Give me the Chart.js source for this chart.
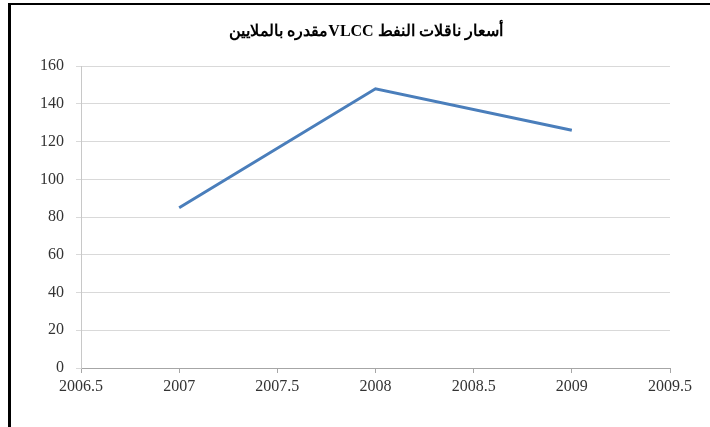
<!DOCTYPE html>
<html>
<head>
<meta charset="utf-8">
<script src="https://cdn.jsdelivr.net/npm/chart.js@4/dist/chart.umd.min.js"></script>
<style>
html,body{margin:0;padding:0;background:#fff;}
#frame{position:absolute;left:8px;top:3px;width:702px;height:424px;border-top:2px solid #000;border-left:3px solid #000;box-sizing:border-box;}
#wrap{position:absolute;left:12px;top:6px;width:698px;height:421px;}
</style>
</head>
<body>
<div id="frame"></div>
<div id="wrap"><canvas id="c" dir="rtl" width="698" height="421"></canvas></div>
<script>
const chartTitle = "أسعار ناقلات النفط VLCCمقدره بالملايين";
const years = [2007, 2008, 2009];
const prices = [85, 148, 126];
const xTicks = [2006.5, 2007, 2007.5, 2008, 2008.5, 2009, 2009.5];
const yTicks = [0, 20, 40, 60, 80, 100, 120, 140, 160];

const tickFont = {family: "'Liberation Serif','Times New Roman',serif", size: 16};

new Chart(document.getElementById('c'), {
  type: 'line',
  data: {
    datasets: [{
      data: years.map((y, i) => ({x: y, y: prices[i]})),
      borderColor: '#4A7EBB',
      borderWidth: 3,
      pointRadius: 0,
      tension: 0,
      fill: false
    }]
  },
  options: {
    responsive: false,
    animation: false,
    layout: {padding: {left: 10, right: 0, top: 0, bottom: 0}},
    plugins: {
      legend: {display: false},
      tooltip: {enabled: false},
      title: {
        display: true,
        text: chartTitle,
        color: '#000',
        font: {family: "'Liberation Serif','Times New Roman',serif", size: 16, weight: 'bold'},
        padding: {top: 16, bottom: 25}
      }
    },
    scales: {
      x: {
        type: 'linear',
        min: xTicks[0],
        max: xTicks[xTicks.length - 1],
        afterBuildTicks: s => { s.ticks = xTicks.map(v => ({value: v})); },
        ticks: {
          callback: v => String(v),
          color: '#333',
          font: tickFont,
          padding: 4,
          maxRotation: 0,
          autoSkip: false
        },
        grid: {display: true, drawOnChartArea: false, drawTicks: true, tickLength: 5, color: '#a6a6a6'},
        border: {display: true, color: '#a6a6a6', width: 1},
        afterFit: s => { s.height = 59; }
      },
      y: {
        min: yTicks[0],
        max: yTicks[yTicks.length - 1],
        afterBuildTicks: s => { s.ticks = yTicks.map(v => ({value: v})); },
        ticks: {
          callback: v => String(v),
          color: '#333',
          font: tickFont,
          padding: 12
        },
        grid: {color: '#d9d9d9', lineWidth: 1, drawTicks: true, tickLength: 5},
        border: {display: true, color: '#c8c8c8', width: 1},
        afterFit: s => { s.width = 59; }
      },
      yRight: {
        position: 'right',
        min: yTicks[0],
        max: yTicks[yTicks.length - 1],
        ticks: {display: false},
        grid: {display: false},
        border: {display: false},
        afterFit: s => { s.width = 40; }
      }
    }
  }
});
</script>
</body>
</html>
